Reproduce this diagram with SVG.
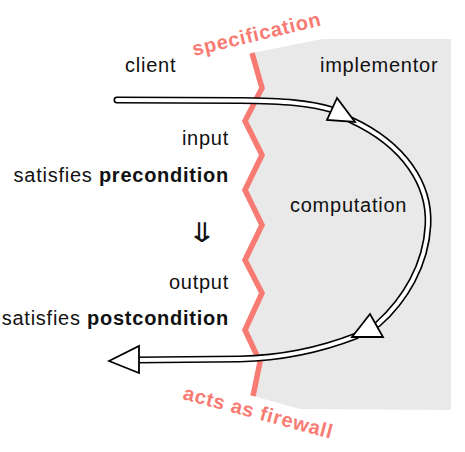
<svg xmlns="http://www.w3.org/2000/svg" width="465" height="452" viewBox="0 0 465 452">
<style>
.t{font-family:"Liberation Sans",Arial,sans-serif;font-size:20px;letter-spacing:0.75px;fill:#111}
.b{font-weight:bold}
.r{font-family:"Liberation Sans",Arial,sans-serif;font-size:20px;letter-spacing:0.75px;font-weight:bold;fill:#f87b73}
.fw{fill:none;stroke:#f87b73;stroke-width:5.5;stroke-linejoin:miter}
.o{fill:none;stroke:#000;stroke-width:7;stroke-linecap:round}
.i{fill:none;stroke:#fff;stroke-width:3.8;stroke-linecap:round}
.h{fill:#fff;stroke:#000;stroke-width:1.8;stroke-linejoin:miter}
</style>
<rect width="465" height="452" fill="#fff"/>
<g id="implementor-zone">
<polygon points="252,53 262,88 245,121 262,155 245,190 262,225 245,260 262,293 245,330 260,362 253,396 300,409 451,410 451,39 322,39" fill="#e9e9e9"/>
</g>
<g id="firewall">
<polyline class="fw" points="252,53 262,88 245,121 262,155 245,190 262,225 245,260 262,293 245,330 260,362 253,396"/>
<text class="r" transform="translate(194,56) rotate(-13.5)">specification</text>
<text class="r" transform="translate(182,399) rotate(15)">acts as firewall</text>
</g>
<g id="client">
<text class="t" x="125" y="72">client</text>
<text class="t" x="229" y="145" text-anchor="end">input</text>
<text class="t" x="229" y="182" text-anchor="end">satisfies <tspan class="b">precondition</tspan></text>
<text transform="translate(202,242) scale(1.4,1)" text-anchor="middle" style="font-family:'DejaVu Sans',sans-serif;font-size:27px;fill:#111">⇓</text>
<text class="t" x="229" y="289" text-anchor="end">output</text>
<text class="t" x="229" y="325" text-anchor="end">satisfies <tspan class="b">postcondition</tspan></text>
</g>
<g id="implementor">
<text class="t" x="320" y="72">implementor</text>
<text class="t" x="290" y="212">computation</text>
</g>
<g id="connectors">
<path class="o" d="M117,100 L240,100.5 C285,101 310,103 333,110"/>
<path class="o" d="M351,120 C405,145 430,185 428,225 C426,265 405,300 378,324"/>
<path class="o" d="M356,336 C320,350 285,358 240,359 L135,360"/>
<path class="i" d="M117,100 L240,100.5 C285,101 310,103 333,110"/>
<path class="i" d="M351,120 C405,145 430,185 428,225 C426,265 405,300 378,324"/>
<path class="i" d="M356,336 C320,350 285,358 240,359 L135,360"/>
<polygon class="h" points="337,98 327,120 355,122"/>
<polygon class="h" points="370,314 352,337 383,337"/>
<polygon class="h" points="109,361 139,346 139,373"/>
</g>
</svg>
